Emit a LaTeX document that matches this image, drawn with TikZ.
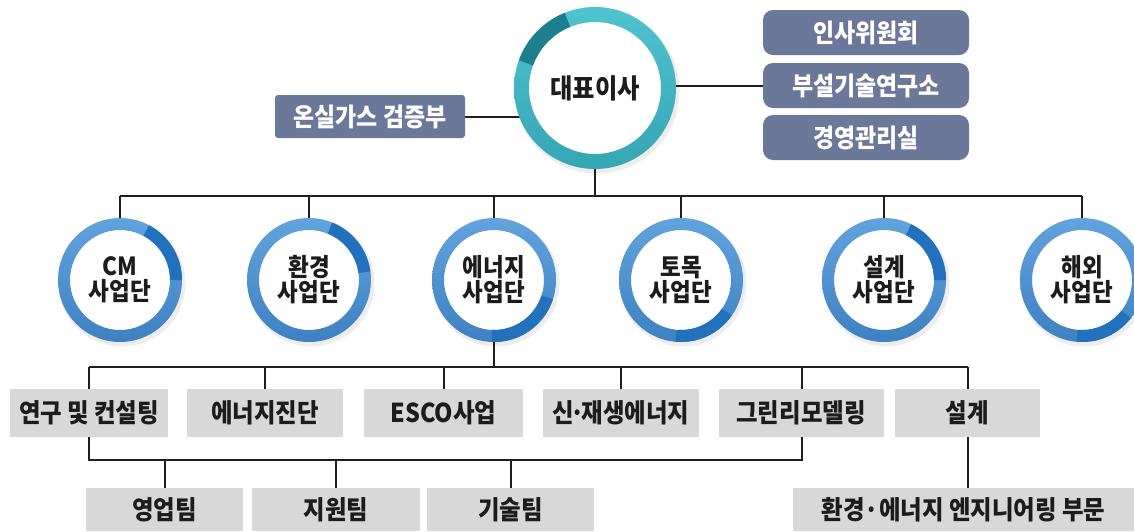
\documentclass[tikz,border=0pt]{standalone}
\usepackage{fontspec}
\setmainfont{Noto Sans CJK KR}[FakeStretch=0.9]
\usetikzlibrary{calc}
\pgfdeclarelayer{bg}
\pgfsetlayers{bg,main}
\definecolor{slate}{HTML}{6C7899}
\definecolor{boxgrey}{HTML}{D8D8D8}
\definecolor{linec}{HTML}{1E1E1E}
\definecolor{txt}{HTML}{1C1C1C}
\definecolor{tealL}{HTML}{4FC3CE}
\definecolor{tealD}{HTML}{35A6B4}
\definecolor{tealS}{HTML}{1D7F8E}
\definecolor{blueL}{HTML}{62A3DD}
\definecolor{blueD}{HTML}{3F80C2}
\definecolor{blueS}{HTML}{2371BC}
\newcommand\mdot{\kern-3.5pt·\kern-3.5pt}
\tikzset{
  conn/.style={draw=linec, line width=2pt},
  slatebox/.style={fill=slate, text=white, font=\bfseries\fontsize{25.5}{27}\selectfont, inner sep=0pt},
  greybox/.style={fill=boxgrey, text=txt, font=\bfseries\fontsize{26}{28}\selectfont, inner sep=0pt, minimum height=48pt},
  teambox/.style={fill=boxgrey, text=txt, font=\bfseries\fontsize{26}{28}\selectfont, inner sep=0pt, minimum height=43pt},
  ceonode/.style={circle, minimum size=162pt, inner sep=0pt, text=txt, font=\bfseries\fontsize{27}{29}\selectfont},
  unitnode/.style={circle, minimum size=124pt, inner sep=0pt, text=txt, align=center, font=\bfseries\fontsize{25}{25}\selectfont},
}
% ring: center, outer radius, inner radius, light, dark, seg colour, seg start, seg end
\newcommand\myring[8]{%
  \fill[black, opacity=0.07] ($(#1)+(2,-3)$) circle (#2+1.5);
  \fill[white] (#1) circle (#3);
  \shade[even odd rule, shading angle=60, top color=#4, bottom color=#5] (#1) circle (#2) (#1) circle (#3);
  \fill[#6] ($(#1)+(#7:#2)$) arc[start angle=#7, end angle=#8, radius=#2] -- ($(#1)+(#8:#3)$) arc[start angle=#8, end angle=#7, radius=#3] -- cycle;
}
\begin{document}
\begin{tikzpicture}[x=1pt,y=1pt]
\useasboundingbox (0,0) rectangle (1134,-531);
\begin{pgfonlayer}{bg}
\fill[white] (0,0) rectangle (1134,-531);
\end{pgfonlayer}

% top
\node[ceonode] (ceo) at (595,-88) {대표이사};
\node[slatebox, rounded corners=3pt, minimum width=190pt, minimum height=43pt] (ghg) at (370,-116.5) {온실가스 검증부};
\node[slatebox, rounded corners=10pt, minimum width=206pt, minimum height=45pt] (r1) at (866,-32.5) {인사위원회};
\node[slatebox, rounded corners=10pt, minimum width=206pt, minimum height=45pt] (r2) at (866,-85.5) {부설기술연구소};
\node[slatebox, rounded corners=10pt, minimum width=206pt, minimum height=45pt] (r3) at (866,-137.5) {경영관리실};

% units
\node[unitnode] (cm)  at (120,-280) {CM\\사업단};
\node[unitnode] (env) at (309,-280) {환경\\사업단};
\node[unitnode] (ene) at (494,-280) {에너지\\사업단};
\node[unitnode] (civ) at (681,-280) {토목\\사업단};
\node[unitnode] (des) at (884,-280) {설계\\사업단};
\node[unitnode] (ovs) at (1082,-280) {해외\\사업단};

% energy sub-boxes
\node[greybox, minimum width=158pt] (k1) at (89,-413) {연구 및 컨설팅};
\node[greybox, minimum width=156pt] (k2) at (265,-413) {에너지진단};
\node[greybox, minimum width=159pt] (k3) at (443.5,-413) {ESCO사업};
\node[greybox, minimum width=156pt] (k4) at (621,-413) {신\mdot 재생에너지};
\node[greybox, minimum width=165pt] (k5) at (801,-413) {그린리모델링};
\node[greybox, minimum width=145pt] (k6) at (967.5,-413) {설계};

% teams
\node[teambox, minimum width=157pt] (t1) at (164.5,-509.5) {영업팀};
\node[teambox, minimum width=168pt] (t2) at (336,-509.5) {지원팀};
\node[teambox, minimum width=167pt] (t3) at (510.5,-509.5) {기술팀};
\node[teambox, minimum width=341pt] (eng) at (963.5,-509.5) {환경·에너지 엔지니어링 부문};

\coordinate (b1) at (595,-196);
\coordinate (b2) at (494,-367);
\coordinate (b3) at (89,-460);

\begin{pgfonlayer}{bg}
\draw[conn] (ghg.east) -- (ghg.east -| ceo.center);
\draw[conn] (r2.west) -- (r2.west -| ceo.center);
\draw[conn] (ceo.center) -- (ceo.center |- b1);
\draw[conn] (cm.north |- b1) -- (ovs.north |- b1);
\foreach \u in {cm,env,ene,civ,des,ovs} {\draw[conn] (\u.north |- b1) -- (\u.center);}
\draw[conn] (ene.center) -- (ene.center |- b2);
\draw[conn] (k1.north |- b2) -- (k6.north |- b2);
\foreach \k in {k1,k2,k3,k4,k6} {\draw[conn] (\k.north |- b2) -- (\k.north);}
\draw[conn] (k5.north) ++(1,0) -- ++(0,23);
\draw[conn] (k1.south) -- (k1.south |- b3) -- ($(k5.south |- b3)+(1,0)$) -- ($(k5.south)+(1,0)$);
\draw[conn] (t1.north |- b3) -- (t1.north);
\draw[conn] (t2.north |- b3) -- (t2.north);
\draw[conn] (t3.north |- b3) -- (t3.north);
\draw[conn] (k6.south) -- (k6.south |- eng.north);
\end{pgfonlayer}

% rings drawn behind text
\begin{pgfonlayer}{bg}
\myring{ceo}{81}{66}{tealL}{tealD}{tealS}{112}{160}
\myring{cm}{62}{50}{blueL}{blueD}{blueS}{0}{62}
\myring{env}{62}{50}{blueL}{blueD}{blueS}{8}{68}
\myring{ene}{62}{50}{blueL}{blueD}{blueS}{-92}{-18}
\myring{civ}{62}{50}{blueL}{blueD}{blueS}{-95}{-35}
\myring{des}{62}{50}{blueL}{blueD}{blueS}{0}{64}
\myring{ovs}{62}{50}{blueL}{blueD}{blueS}{-95}{-38}
\end{pgfonlayer}
\end{tikzpicture}
\end{document}
